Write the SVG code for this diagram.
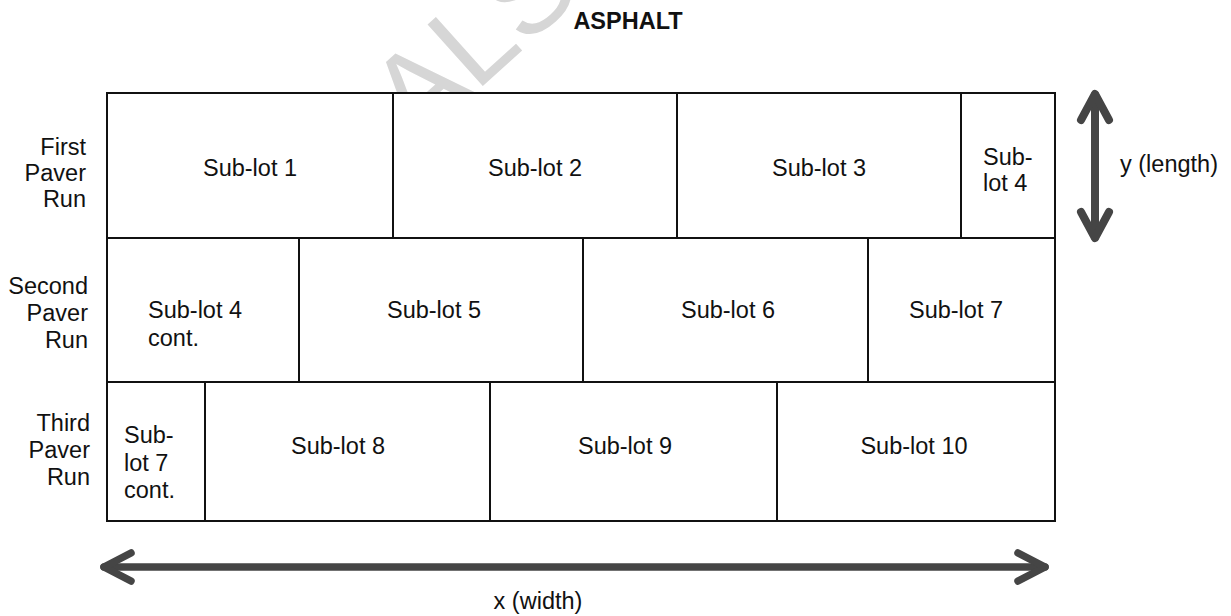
<svg xmlns="http://www.w3.org/2000/svg" width="1231" height="616" viewBox="0 0 1231 616">
  <style>
    .wm { font-family: "Liberation Sans", Arial, sans-serif; font-size: 120px; fill: #d6d6d6; }
    .cell { fill: #ffffff; stroke: #111111; stroke-width: 2; }
    .t { font-family: "Liberation Sans", Arial, sans-serif; font-size: 23.5px; fill: #111111; }
    .c { text-anchor: middle; }
    .r { text-anchor: end; }
    .title { font-family: "Liberation Sans", Arial, sans-serif; font-size: 23.5px; font-weight: bold; fill: #111111; text-anchor: middle; }
    .arrow { fill: none; stroke: #454545; stroke-linecap: round; stroke-linejoin: round; }
  </style>

  <rect width="1231" height="616" fill="#ffffff"/>

  <!-- faint background watermark, mostly covered by the lot grid -->
  <text class="wm" transform="translate(416,146) rotate(-42)">ALS</text>

  <text class="title" x="628" y="29">ASPHALT</text>

  <!-- row labels -->
  <g id="row-labels">
    <text class="t r" x="86" y="155">First</text>
    <text class="t r" x="86" y="181">Paver</text>
    <text class="t r" x="86" y="207">Run</text>
    <text class="t r" x="88" y="294">Second</text>
    <text class="t r" x="88" y="321">Paver</text>
    <text class="t r" x="88" y="348">Run</text>
    <text class="t r" x="90" y="431">Third</text>
    <text class="t r" x="90" y="458">Paver</text>
    <text class="t r" x="90" y="485">Run</text>
  </g>

  <!-- first paver run -->
  <g id="sublot-1">
    <rect class="cell" x="107" y="93" width="286" height="145"/>
    <text class="t c" x="250" y="176">Sub-lot 1</text>
  </g>
  <g id="sublot-2">
    <rect class="cell" x="393" y="93" width="284" height="145"/>
    <text class="t c" x="535" y="176">Sub-lot 2</text>
  </g>
  <g id="sublot-3">
    <rect class="cell" x="677" y="93" width="284" height="145"/>
    <text class="t c" x="819" y="176">Sub-lot 3</text>
  </g>
  <g id="sublot-4">
    <rect class="cell" x="961" y="93" width="94" height="145"/>
    <text class="t" x="983" y="165">Sub-</text>
    <text class="t" x="983" y="191">lot 4</text>
  </g>

  <!-- second paver run -->
  <g id="sublot-4-cont">
    <rect class="cell" x="107" y="238" width="192" height="144"/>
    <text class="t" x="148" y="318">Sub-lot 4</text>
    <text class="t" x="148" y="346">cont.</text>
  </g>
  <g id="sublot-5">
    <rect class="cell" x="299" y="238" width="284" height="144"/>
    <text class="t c" x="434" y="318">Sub-lot 5</text>
  </g>
  <g id="sublot-6">
    <rect class="cell" x="583" y="238" width="285" height="144"/>
    <text class="t c" x="728" y="318">Sub-lot 6</text>
  </g>
  <g id="sublot-7">
    <rect class="cell" x="868" y="238" width="187" height="144"/>
    <text class="t c" x="956" y="318">Sub-lot 7</text>
  </g>

  <!-- third paver run -->
  <g id="sublot-7-cont">
    <rect class="cell" x="107" y="382" width="98" height="139"/>
    <text class="t" x="124" y="443">Sub-</text>
    <text class="t" x="124" y="471">lot 7</text>
    <text class="t" x="124" y="498">cont.</text>
  </g>
  <g id="sublot-8">
    <rect class="cell" x="205" y="382" width="285" height="139"/>
    <text class="t c" x="338" y="454">Sub-lot 8</text>
  </g>
  <g id="sublot-9">
    <rect class="cell" x="490" y="382" width="287" height="139"/>
    <text class="t c" x="625" y="454">Sub-lot 9</text>
  </g>
  <g id="sublot-10">
    <rect class="cell" x="777" y="382" width="278" height="139"/>
    <text class="t c" x="914" y="454">Sub-lot 10</text>
  </g>

  <!-- dimension arrows -->
  <g id="connectors">
    <g id="y-arrow">
      <path class="arrow" stroke-width="8" d="M1095 95 V237"/>
      <path class="arrow" stroke-width="8" d="M1081 120 L1095 94 L1109 120"/>
      <path class="arrow" stroke-width="8" d="M1081 212 L1095 238 L1109 212"/>
    </g>
    <g id="x-arrow">
      <path class="arrow" stroke-width="7.5" d="M104 567 H1045"/>
      <path class="arrow" stroke-width="7.5" d="M131 553 L104 567 L131 581"/>
      <path class="arrow" stroke-width="7.5" d="M1018 553 L1045 567 L1018 581"/>
    </g>
  </g>

  <text class="t" x="1120" y="172">y (length)</text>
  <text class="t c" x="538" y="609">x (width)</text>
</svg>
